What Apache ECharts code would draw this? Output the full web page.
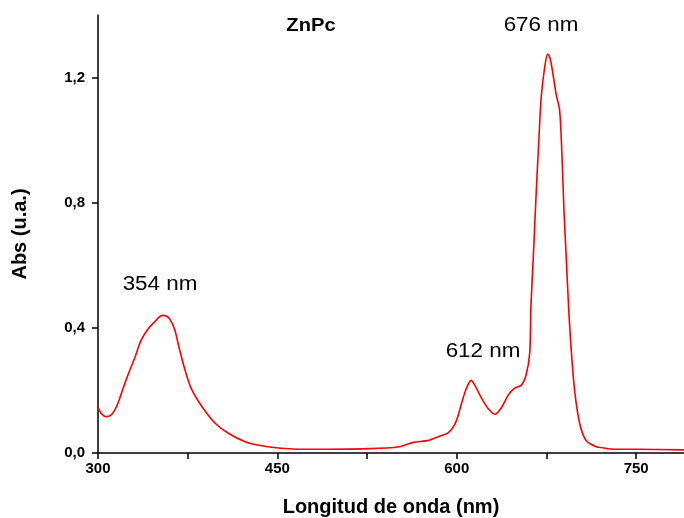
<!DOCTYPE html>
<html>
<head>
<meta charset="utf-8">
<script src="https://cdn.jsdelivr.net/npm/echarts@6/dist/echarts.min.js"></script>
<style>
  html, body { margin: 0; padding: 0; background: #fff; }
  #chart { width: 684px; height: 518px; }
</style>
</head>
<body>
<div id="chart"></div>
<script>
// UV-Vis absorption spectrum of ZnPc
const wavelength = [300, 303, 307, 311, 314, 317, 320, 325, 331, 336, 342, 348, 351, 354, 357, 360, 364, 368, 373, 378, 387, 398, 409, 423, 437, 449, 463, 491, 527, 541, 552, 558, 564, 572, 577, 586, 593, 598, 601, 604, 608, 612, 615, 620, 626, 632, 637, 643, 648, 654, 658, 661, 662, 664, 666.5, 668.6, 670.6, 673.5, 676, 678, 680.4, 683, 686, 688, 689.5, 691.5, 693.5, 695.7, 698.5, 702.7, 708, 716.6, 722, 728, 750, 790];
const absorbance = [0.145, 0.125, 0.116, 0.122, 0.137, 0.162, 0.196, 0.249, 0.307, 0.360, 0.397, 0.422, 0.434, 0.440, 0.438, 0.428, 0.396, 0.333, 0.262, 0.206, 0.148, 0.095, 0.063, 0.036, 0.023, 0.017, 0.013, 0.012, 0.014, 0.016, 0.020, 0.027, 0.034, 0.038, 0.041, 0.054, 0.065, 0.089, 0.118, 0.159, 0.206, 0.232, 0.217, 0.180, 0.143, 0.124, 0.143, 0.185, 0.206, 0.217, 0.250, 0.320, 0.467, 0.627, 0.839, 0.999, 1.137, 1.233, 1.275, 1.262, 1.212, 1.148, 1.095, 0.946, 0.786, 0.627, 0.467, 0.329, 0.201, 0.095, 0.041, 0.020, 0.017, 0.013, 0.012, 0.010];

const xTickValues = [300, 375, 450, 525, 600, 675, 750];
const xLabelValues = [300, 450, 600, 750];
const yTickValues = [0, 0.4, 0.8, 1.2];

const chartTitle = 'ZnPc';
const xName = 'Longitud de onda (nm)';
const yName = 'Abs (u.a.)';
const peakNotes = ['354 nm', '612 nm', '676 nm'];

const chart = echarts.init(document.getElementById('chart'), null, { renderer: 'canvas' });
const FONT = 'Arial, "Liberation Sans", sans-serif';

// free-standing captions, slightly widened
function caption(text, x, y, font) {
  return {
    type: 'text', x: x, y: y, scaleX: 1.12,
    style: { text: text, font: font, fill: '#000', textAlign: 'center', textVerticalAlign: 'middle' }
  };
}

chart.setOption({
  animation: false,
  backgroundColor: '#fff',
  grid: { left: 98, right: 0, top: 15, bottom: 65, containLabel: false, outerBoundsMode: 'none' },
  xAxis: {
    type: 'value',
    min: 300,
    max: 790,
    name: xName,
    nameLocation: 'middle',
    nameGap: 44,
    nameTextStyle: { fontFamily: FONT, fontWeight: 'bold', fontSize: 20, color: '#000' },
    axisLine: { show: true, lineStyle: { color: '#000', width: 1.5 } },
    axisTick: { show: true, inside: false, length: 6, customValues: xTickValues, lineStyle: { color: '#000', width: 1.5 } },
    axisLabel: { customValues: xLabelValues, margin: 8, fontFamily: FONT, fontWeight: 'bold', fontSize: 15, color: '#000' },
    splitLine: { show: false }
  },
  yAxis: {
    type: 'value',
    min: 0,
    max: 1.4,
    name: yName,
    nameLocation: 'middle',
    nameGap: 68,
    nameRotate: 90,
    nameTextStyle: { fontFamily: FONT, fontWeight: 'bold', fontSize: 20, color: '#000' },
    axisLine: { show: true, lineStyle: { color: '#000', width: 1.5 } },
    axisTick: { show: true, inside: false, length: 6, customValues: yTickValues, lineStyle: { color: '#000', width: 1.5 } },
    axisLabel: {
      customValues: yTickValues,
      margin: 13,
      fontFamily: FONT, fontWeight: 'bold', fontSize: 15, color: '#000',
      formatter: v => v.toFixed(1).replace('.', ',')
    },
    splitLine: { show: false }
  },
  series: [{
    type: 'line',
    data: wavelength.map((w, i) => [w, absorbance[i]]),
    showSymbol: false,
    smooth: 0.3,
    lineStyle: { color: '#ff0000', width: 1.6 },
    clip: true
  }],
  graphic: [
    caption(chartTitle, 311, 26, 'bold 18px ' + FONT),
    caption(peakNotes[0], 160, 284, '20px ' + FONT),
    caption(peakNotes[1], 483, 351, '20px ' + FONT),
    caption(peakNotes[2], 541, 25, '20px ' + FONT)
  ]
});
</script>
</body>
</html>
